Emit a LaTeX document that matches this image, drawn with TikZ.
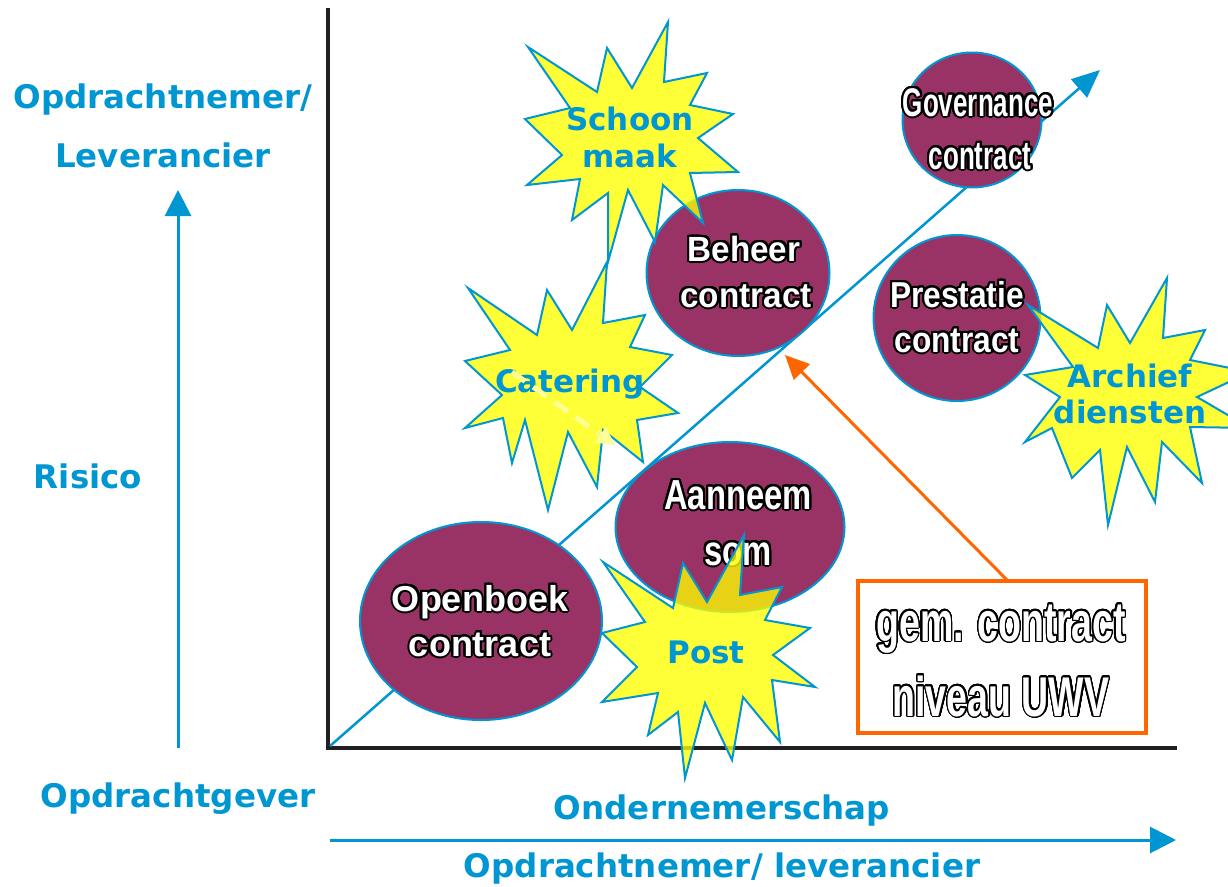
\documentclass[tikz,border=0pt]{standalone}
\usepackage{fontspec}
\usepackage{contour}
\usetikzlibrary{shapes.geometric,arrows.meta}
\setmainfont{DejaVu Sans}
\newfontfamily\blufont{DejaVu Sans}
\newfontfamily\lsA{Liberation Sans}
\newfontfamily\lsB[FakeStretch=0.95]{Liberation Sans}
\newfontfamily\lsC[FakeStretch=0.88]{Liberation Sans}
\newfontfamily\lsD[FakeStretch=0.78]{Liberation Sans}
\newfontfamily\lsE[FakeStretch=0.65]{Liberation Sans}
\newfontfamily\lsF[FakeStretch=0.67]{Liberation Sans}
\definecolor{myblue}{RGB}{0,150,210}
\definecolor{mypurple}{RGB}{153,51,102}
\definecolor{myorange}{RGB}{255,102,0}
\definecolor{myaxis}{RGB}{35,31,32}
\definecolor{myyellow}{RGB}{255,255,0}
\definecolor{paleyellow}{RGB}{255,255,150}
\contournumber{32}
\tikzset{
  blulbl/.style={text=myblue, font=\blufont\bfseries\fontsize{32.5}{38}\selectfont, anchor=base, inner sep=0pt},
  starlbl/.style={text=myblue, font=\blufont\bfseries\fontsize{31}{37}\selectfont, anchor=base, inner sep=0pt},
  blob/.style={ellipse, draw=myblue, line width=2pt, fill=mypurple, inner sep=0pt},
  burst/.style={draw=myblue, line width=2pt, fill=myyellow, fill opacity=0.78, line join=miter},
  elbl/.style={text=white, anchor=base, inner sep=0pt},
  axisline/.style={draw=myaxis, line width=4pt},
  bluearrow/.style={draw=myblue, line width=3pt, -{Triangle[width=26pt,length=26pt]}},
}
\begin{document}
\begin{tikzpicture}[x=1pt,y=-1pt]
\useasboundingbox (0,0) rectangle (1228,886);
\clip (0,0) rectangle (1228,886);

% axes
\coordinate (axtop) at (328,8);
\coordinate (orig) at (328,748);
\coordinate (axright) at (1177,748);
\draw[axisline] (axtop) -- (orig) -- (axright);

% diagonal
\coordinate (dstart) at (330,746);
\coordinate (dend) at (1100,70);
\draw[myblue, line width=2.5pt, -{Triangle[width=24pt,length=28pt]}] (dstart) -- (dend);

% Catering star (behind ellipses)
\draw[burst] (468,288) -- (537,335) -- (547,290) -- (572,330) -- (607,262) -- (603,323) -- (645,315) -- (630,347) -- (672,355) -- (640,387) -- (678,413) -- (637,420) -- (643,462) -- (603,430) -- (597,487) -- (568,432) -- (548,510) -- (525,420) -- (512,463) -- (503,418) -- (465,428) -- (502,395) -- (465,361) -- (510,350) -- cycle;

% ellipses
\node[blob, minimum width=242pt, minimum height=198pt] (openboek) at (481,621) {};
\node[blob, minimum width=229pt, minimum height=170pt] (aanneem) at (730,527) {};
\node[blob, minimum width=183pt, minimum height=166pt] (beheer) at (738,273) {};
\node[blob, minimum width=139pt, minimum height=135pt] (governance) at (972,120) {};
\node[blob, minimum width=167pt, minimum height=166pt] (prestatie) at (957,318) {};

% ellipse labels
\contourlength{2pt}
\node[elbl, font=\lsA\bfseries\fontsize{36}{40}\selectfont] (openboek1) at (480,611) {\contour{black}{Openboek}};
\node[elbl, font=\lsA\bfseries\fontsize{36}{40}\selectfont] (openboek2) at (480,656) {\contour{black}{contract}};
\node[elbl, font=\lsD\bfseries\fontsize{42}{46}\selectfont] (aanneem1) at (738,509) {\contour{black}{Aanneem}};
\node[elbl, font=\lsD\bfseries\fontsize{42}{46}\selectfont] (aanneem2) at (738,565) {\contour{black}{som}};
\node[elbl, font=\lsB\bfseries\fontsize{35}{38}\selectfont] (beheer1) at (744,261) {\contour{black}{Beheer}};
\node[elbl, font=\lsB\bfseries\fontsize{35}{38}\selectfont] (beheer2) at (746,307) {\contour{black}{contract}};
\node[elbl, font=\lsC\bfseries\fontsize{36}{40}\selectfont] (prestatie1) at (957,307) {\contour{black}{Prestatie}};
\node[elbl, font=\lsC\bfseries\fontsize{36}{40}\selectfont] (prestatie2) at (957,352) {\contour{black}{contract}};
\node[elbl, font=\lsE\bfseries\fontsize{40}{44}\selectfont] (governance1) at (978,116) {\contour{black}{Governance}};
\node[elbl, font=\lsE\bfseries\fontsize{40}{44}\selectfont] (governance2) at (980,169) {\contour{black}{contract}};

% Schoonmaak star
\draw[burst] (528,47) -- (597,92) -- (607,48) -- (632,88) -- (668,22) -- (664,82) -- (707,73) -- (690,105) -- (733,114) -- (698,138) -- (738,172) -- (690,173) -- (703,223) -- (663,185) -- (655,242) -- (628,190) -- (608,262) -- (608,193) -- (572,220) -- (580,179) -- (527,185) -- (562,155) -- (525,119) -- (570,108) -- cycle;

% Post star
\draw[burst] (603,562) -- (673,608) -- (683,563) -- (707,602) -- (744,535) -- (740,595) -- (782,587) -- (765,620) -- (810,628) -- (773,655) -- (815,687) -- (772,680) -- (780,742) -- (743,697) -- (732,760) -- (705,703) -- (685,778) -- (678,712) -- (648,735) -- (658,693) -- (602,702) -- (637,667) -- (602,633) -- (645,622) -- cycle;

% Archief star
\draw[burst] (1028,305) -- (1098,348) -- (1107,305) -- (1130,343) -- (1167,278) -- (1163,338) -- (1205,330) -- (1190,360) -- (1250,372) -- (1197,397) -- (1250,428) -- (1190,427) -- (1202,483) -- (1162,442) -- (1155,502) -- (1127,447) -- (1108,525) -- (1100,450) -- (1072,478) -- (1052,428) -- (1025,442) -- (1060,397) -- (1025,375) -- (1073,367) -- cycle;

% star labels
\node[starlbl] (schoon1) at (630,130) {Schoon};
\node[starlbl] (schoon2) at (630,167) {maak};
\node[starlbl] (catering) at (570,392) {Catering};
\node[starlbl] (post) at (706,663) {Post};
\node[starlbl] (archief1) at (1130,387) {Archief};
\node[starlbl] (archief2) at (1130,423) {diensten};

% pale dashed arrow over Catering
\coordinate (pstart) at (512,372);
\coordinate (pend) at (615,445);
\draw[paleyellow, line width=5pt, dash pattern=on 16pt off 10pt, -{Triangle[width=18pt,length=18pt]}] (pstart) -- (pend);

% box
\node[draw=myorange, line width=3.5pt, fill=white, minimum width=288pt, minimum height=152pt, inner sep=0pt] (box) at (1002,657) {};
\contourlength{1.4pt}
\node[elbl, font=\lsF\bfseries\fontsize{56}{60}\selectfont] (box1) at (1001,641) {\contour{black}{gem. contract}};
\node[elbl, font=\lsF\bfseries\fontsize{56}{60}\selectfont] (box2) at (1001,716) {\contour{black}{niveau UWV}};

% orange arrow
\coordinate (ostart) at (1008,581);
\coordinate (oend) at (785,355);
\draw[myorange, line width=3pt, -{Triangle[width=22pt,length=24pt]}] (ostart) -- (oend);

% left axis labels and arrow
\node[blulbl] (opdr1) at (163,108) {Opdrachtnemer/};
\node[blulbl] (opdr2) at (163,167) {Leverancier};
\node[blulbl] (risico) at (88,488) {Risico};
\node[blulbl] (opdrgever) at (178,807) {Opdrachtgever};
\coordinate (varrowbot) at (178,748);
\coordinate (varrowtop) at (178,190);
\draw[bluearrow] (varrowbot) -- (varrowtop);

% bottom labels and arrow
\node[blulbl] (ondern) at (722,819) {Ondernemerschap};
\node[blulbl] (opdrlev) at (722,877) {Opdrachtnemer/ leverancier};
\coordinate (harrowl) at (330,840);
\coordinate (harrowr) at (1176,840);
\draw[bluearrow] (harrowl) -- (harrowr);
\end{tikzpicture}
\end{document}
